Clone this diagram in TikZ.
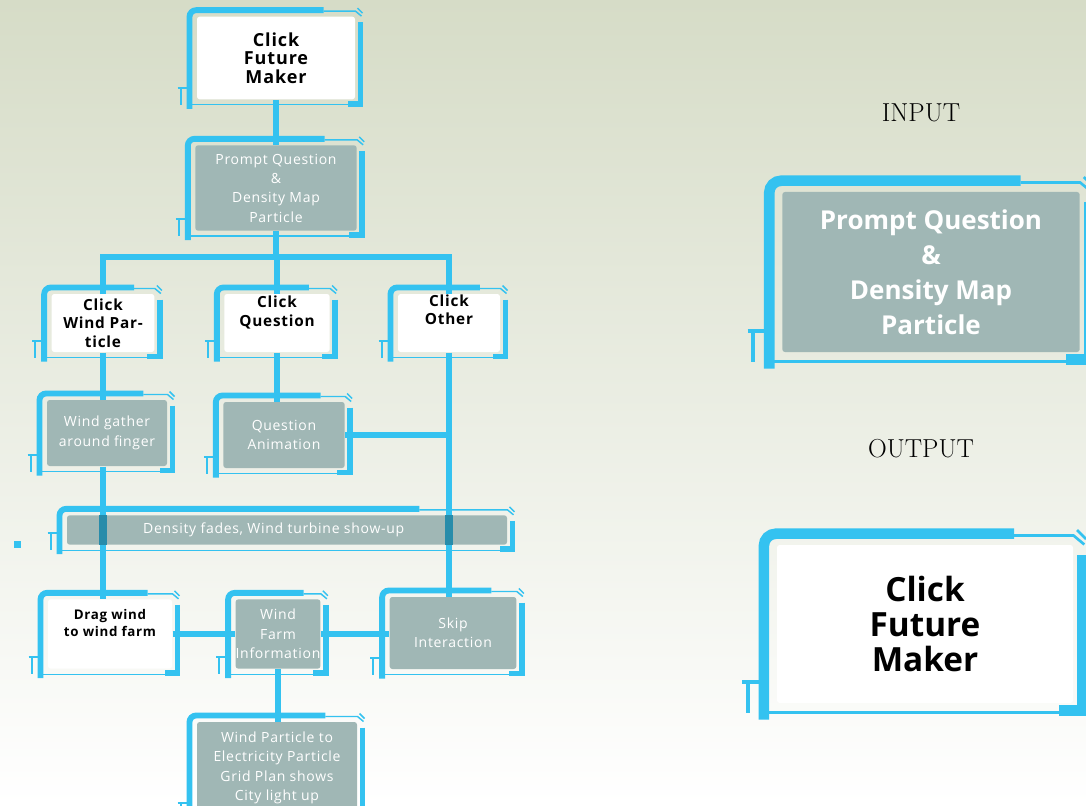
\documentclass[tikz,border=0pt]{standalone}
\usepackage{fontspec}
\setsansfont{Open Sans}
\newfontfamily\boxfont[LetterSpace=5]{Open Sans}
\usetikzlibrary{calc}

\definecolor{bgtop}{RGB}{214,220,199}
\definecolor{lblue}{RGB}{52,194,240}
\definecolor{boxgray}{RGB}{160,183,181}
\definecolor{lteal}{RGB}{40,140,170}

\tikzset{every picture/.style={line width=0.75pt}}
\tikzset{
  link/.style={draw=lblue, line width=5.2pt},
  wbox/.style={fill=white, rounded corners=2pt, align=center, inner sep=0pt, text=black,
    font=\boxfont\bfseries\fontsize{11.5}{14}\selectfont},
  gbox/.style={fill=boxgray, rounded corners=2pt, align=center, inner sep=0pt, text=white,
    font=\boxfont\fontsize{10.5}{14.5}\selectfont},
  bthick/.style={draw=lblue, line cap=butt},
  bthin/.style={draw=lblue},
}

% blue frame round a box
\newcommand\bframe[2][1]{%
  \draw[bthick, line width=#1*4.4pt, rounded corners=#1*5pt]
    ($(#2.south west)+(-7*#1,9*#1)$) -- ($(#2.north west)+(-7*#1,-6*#1)$)
    -- ($(#2.north west)!0.8!(#2.north east)+(0,-6*#1)$);
  \draw[bthick, line width=#1*4.4pt]
    ($(#2.north east)+(5*#1,6*#1)$) -- ($(#2.south east)+(5*#1,4*#1)$)
    -- ($(#2.south east)+(-8*#1,4*#1)$);
  \draw[bthin, line width=#1*1.1pt]
    ($(#2.north west)!0.8!(#2.north east)+(0,-5*#1)$) -- ($(#2.north east)+(0,-5*#1)$)
    -- ($(#2.north east)+(6*#1,0)$);
  \draw[bthin, line width=#1*1.1pt]
    ($(#2.north east)+(2*#1,-8*#1)$) -- ($(#2.north east)+(7*#1,-3*#1)$);
  \draw[bthin, line width=#1*1pt]
    ($(#2.south west)+(-7*#1,5*#1)$) -- ($(#2.south east)+(-8*#1,5*#1)$);
  \draw[bthin, line width=#1*1.5pt]
    ($(#2.south west)+(-19*#1,-12*#1)$) -- ($(#2.south west)+(-7*#1,-12*#1)$)
    ($(#2.south west)+(-16*#1,-12*#1)$) -- ($(#2.south west)+(-16*#1,5*#1)$);
}

\begin{document}
\begin{tikzpicture}[x=0.75pt,y=0.75pt,yscale=-1,xscale=1]
\useasboundingbox (0,0) rectangle (1086,806);
\clip (0,0) rectangle (1086,806);
%Shape: Background
\fill[top color=bgtop, bottom color=white] (0,0) rectangle (1086,806);

% Flow boxes
\node[wbox, font=\boxfont\bfseries\fontsize{13.5}{14}\selectfont, minimum width=118.5pt, minimum height=62pt] (fm) at (276,58) {Click\\Future\\Maker};
\node[gbox, minimum width=121pt, minimum height=64pt] (pq) at (276,188) {Prompt Question\\\&\\Density Map\\Particle};
\node[wbox, minimum width=77pt, minimum height=43.5pt] (cwp) at (103,323) {Click\\Wind Par-\\ticle};
\node[wbox, minimum width=79pt, minimum height=43.5pt] (cq) at (277,323) {Click\\Question\\[4pt]};
\node[wbox, minimum width=76.5pt, minimum height=43.5pt] (co) at (449,323) {Click\\Other\\[6pt]};
\node[gbox, minimum width=90pt, minimum height=49.5pt] (wg) at (107,433) {Wind gather\\around finger};
\node[gbox, minimum width=91pt, minimum height=49.5pt] (qa) at (284,435) {Question\\Animation};
\node[wbox, font=\boxfont\bfseries\fontsize{10}{13}\selectfont, minimum width=93pt, minimum height=52pt] (dw) at (110,634) {Drag wind\\to wind farm\\[4pt]};
\node[gbox, minimum width=61pt, minimum height=52pt] (wf) at (278,634) {Wind\\Farm\\Information};
\node[gbox, minimum width=95pt, minimum height=54pt] (skip) at (453,633) {Skip\\Interaction};
\node[gbox, minimum width=120pt, minimum height=69pt] (wp) at (277,768) {Wind Particle to\\Electricity Particle\\Grid Plan shows\\City light up};

% Legend
\node[font=\fontsize{19.5}{22}\selectfont] (lin) at (921,113) {INPUT};
\node[gbox, font=\sffamily\bfseries\fontsize{19.5}{26.25}\selectfont, minimum width=223pt, minimum height=120pt] (lpq) at (931,272) {Prompt Question\\\&\\Density Map\\Particle};
\node[font=\fontsize{19.5}{22}\selectfont] (lout) at (921,449) {OUTPUT};
\node[wbox, font=\sffamily\bfseries\fontsize{25}{26.25}\selectfont, minimum width=222pt, minimum height=118.5pt] (lfm) at (925,624) {Click\\Future\\Maker};

%Straight Lines
\coordinate (bus) at (276,257);
\draw[link] (fm.south) -- (pq.north);
\draw[link] (pq.south) -- (bus);
\draw[link] (cwp.north) |- (bus) -| (co.north);
\draw[link] (bus -| cq.north) -- (cq.north);
\draw[link] (cwp.south) -- (cwp.south |- wg.north);
\draw[link] (cq.south) -- (cq.south |- qa.north);
\draw[link] (co.south) -- (co.south |- skip.north);
\draw[link] (qa.east) -- (qa.east -| co.south);
\draw[link] (cwp.south |- wg.south) -- (cwp.south |- dw.north);
\draw[link] (dw.east) -- (wf.west);
\draw[link] (wf.east) -- (wf.east -| skip.west);
\draw[link] (wf.south) -- (wf.south |- wp.north);

% banner over the lines
\node[gbox, minimum width=330pt, minimum height=22pt] (df) at (287,530) {Density fades, Wind turbine show-up\hspace*{20pt}};
\fill[lteal] ($(cwp.south |- df.north)+(-4,0)$) rectangle ($(cwp.south |- df.south)+(4,0)$);
\fill[lteal] ($(co.south |- df.north)+(-4,0)$) rectangle ($(co.south |- df.south)+(4,0)$);
%Shape: small square
\fill[lblue] (14,541) rectangle (21,548);

% Frames
\foreach \b in {fm,pq,cwp,cq,co,wg,qa,df,dw,wf,skip,wp} {\bframe{\b}}
\bframe[1.8]{lpq}
\bframe[1.8]{lfm}

\end{tikzpicture}
\end{document}
